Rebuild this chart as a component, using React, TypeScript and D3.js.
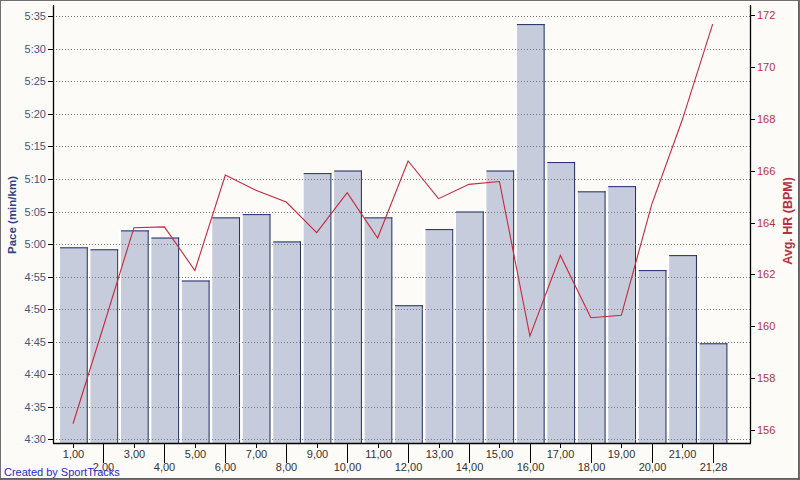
import React from "react";
import * as d3 from "d3";

const laps = ["1,00","2,00","3,00","4,00","5,00","6,00","7,00","8,00","9,00","10,00","11,00","12,00","13,00","14,00","15,00","16,00","17,00","18,00","19,00","20,00","21,00","21,28"];
// pace in seconds per km
const paceSec = [299.5,299.2,302.1,301.0,294.4,304.1,304.6,300.4,310.9,311.3,304.1,290.6,302.3,305.0,311.3,333.8,312.6,308.1,308.9,296.0,298.3,284.75];
const avgHR = [156.24,160.0,163.8,163.83,162.15,165.83,165.24,164.79,163.61,165.15,163.4,166.37,164.92,165.47,165.58,159.62,162.73,160.33,160.42,164.7,167.95,171.65];
const paceTicks = [270,275,280,285,290,295,300,305,310,315,320,325,330,335];
const hrTicks = [156,158,160,162,164,166,168,170,172];

const W = 800, H = 480;
const L = 53, R = 750, T = 5, B = 443;
const FONT = "'Liberation Sans', Arial, sans-serif";

const fmtPace = (s: number) => `${Math.floor(s / 60)}:${String(Math.round(s % 60)).padStart(2, "0")}`;

export default function App() {
  const x = d3.scaleBand<string>().domain(laps).range([57.8, 727.9]).paddingInner(0).paddingOuter(0);
  const yP = d3.scaleLinear().domain([270, 335]).range([439.3, 16.3]);
  const yH = d3.scaleLinear().domain([156, 172]).range([430, 15]);
  const step = x.bandwidth();
  const line = d3.line<number>()
    .x((_, i) => (x(laps[i]) as number) + step / 2)
    .y((d) => yH(d));

  return (
    <svg width={W} height={H} style={{ position: "fixed", left: 0, top: 0 }} fontFamily={FONT}>
      <rect x={0} y={0} width={W} height={H} fill="#fcfbf7" />
      <rect x={0.5} y={0.5} width={W - 1} height={H - 1} fill="none" stroke="#707070" />
      <line x1={0} x2={W} y1={H - 1.5} y2={H - 1.5} stroke="#606060" />
      <line x1={W - 1.5} x2={W - 1.5} y1={0} y2={H} stroke="#606060" />

      {/* bars */}
      {paceSec.map((v, i) => {
        const x0 = x(laps[i]) as number;
        const yt = yP(v);
        return (
          <g key={i}>
            <rect x={x0} y={yt} width={2.2} height={B - yt} fill="#ffffff" />
            <rect x={x0 + 2.2} y={yt} width={step - 3.2} height={B - yt} fill="#c6ccdb" />
            <line x1={x0 + 2.2} x2={x0 + step - 0.5} y1={yt + 0.5} y2={yt + 0.5} stroke="#1e2d66" />
            <line x1={x0 + step - 1} x2={x0 + step - 1} y1={yt} y2={B} stroke="#1e2d66" />
          </g>
        );
      })}

      {/* gridlines */}
      {paceTicks.map((t) => (
        <line key={t} x1={L} x2={R} y1={Math.round(yP(t)) + 0.5} y2={Math.round(yP(t)) + 0.5}
          stroke="#7a7a7a" strokeDasharray="1,2" />
      ))}

      {/* axes */}
      <line x1={L + 0.5} x2={L + 0.5} y1={T} y2={B} stroke="#000" strokeWidth={1.3} />
      <line x1={R + 0.5} x2={R + 0.5} y1={T} y2={B} stroke="#000" strokeWidth={1.3} />
      <line x1={L} x2={R + 1} y1={B + 0.5} y2={B + 0.5} stroke="#000" strokeWidth={1.3} />

      {paceTicks.map((t) => (
        <g key={t}>
          <line x1={L - 5} x2={L} y1={Math.round(yP(t)) + 0.5} y2={Math.round(yP(t)) + 0.5} stroke="#000" />
          <text x={46} y={yP(t) + 4} textAnchor="end" fontSize={11} fill="#44557a">{fmtPace(t)}</text>
        </g>
      ))}

      {hrTicks.map((t) => (
        <g key={t}>
          <line x1={R} x2={R + 5} y1={Math.round(yH(t)) + 0.5} y2={Math.round(yH(t)) + 0.5} stroke="#000" />
          <text x={757} y={yH(t) + 4} textAnchor="start" fontSize={11} fill="#b8303e">{t}</text>
        </g>
      ))}

      {laps.map((l, i) => {
        const cx = Math.round((x(l) as number) + step / 2) + 0.5;
        const long = i % 2 === 1;
        return (
          <g key={l}>
            <line x1={cx} x2={cx} y1={B} y2={long ? 463 : 448} stroke="#000" />
            <text x={cx} y={long ? 471 : 457.5} textAnchor="middle" fontSize={11} fill="#333">{l}</text>
          </g>
        );
      })}

      {/* HR line */}
      <path d={line(avgHR) as string} fill="none" stroke="#c8283c" strokeWidth={1.1} />

      {/* titles */}
      <text transform="translate(16,215) rotate(-90)" textAnchor="middle" fontSize={11.5} fontWeight="bold" fill="#2f4486">Pace (min/km)</text>
      <text transform="translate(792,221) rotate(-90)" textAnchor="middle" fontSize={12.5} fontWeight="bold" fill="#b8303e">Avg. HR (BPM)</text>
      <text x={4} y={475.5} fontSize={11} fill="#2828d0">Created by SportTracks</text>
    </svg>
  );
}
